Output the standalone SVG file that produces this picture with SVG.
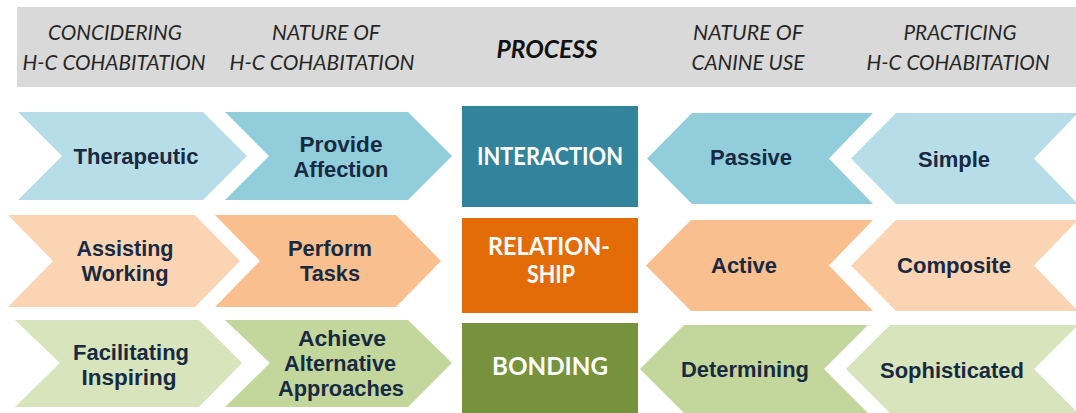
<svg xmlns="http://www.w3.org/2000/svg" width="1076" height="413" viewBox="0 0 1076 413">
  <style>
    .hdr { font-family: Lato, "Open Sans", "Liberation Sans", sans-serif; font-style: italic; font-size: 21px; fill: #262626; text-anchor: middle; }
    .hdr-b { font-family: Lato, "Open Sans", "Liberation Sans", sans-serif; font-style: italic; font-weight: bold; font-size: 24px; fill: #111; text-anchor: middle; }
    .lbl { font-family: "Liberation Sans", Arial, sans-serif; font-weight: bold; font-size: 22px; fill: #172a42; text-anchor: middle; }
    .core { font-family: Lato, "Open Sans", "Liberation Sans", sans-serif; font-weight: bold; font-size: 24px; fill: #ffffff; text-anchor: middle; }
    .blue-l { fill: #b7dde8; }
    .blue-d { fill: #92cddc; }
    .orange-l { fill: #fbd4b4; }
    .orange-d { fill: #fabf8f; }
    .green-l { fill: #d7e4bc; }
    .green-d { fill: #c3d69b; }
  </style>

  <!-- header band -->
  <g id="header">
    <rect x="17" y="7" width="1062" height="80" fill="#d9d9d9"/>
    <text class="hdr" x="115" y="40" textLength="134" lengthAdjust="spacingAndGlyphs">CONCIDERING</text>
    <text class="hdr" x="114" y="70" textLength="183" lengthAdjust="spacingAndGlyphs">H-C COHABITATION</text>
    <text class="hdr" x="326" y="40" textLength="108" lengthAdjust="spacingAndGlyphs">NATURE OF</text>
    <text class="hdr" x="322" y="70" textLength="185" lengthAdjust="spacingAndGlyphs">H-C COHABITATION</text>
    <text class="hdr-b" x="547" y="58" textLength="101" lengthAdjust="spacingAndGlyphs">PROCESS</text>
    <text class="hdr" x="748" y="40" textLength="110" lengthAdjust="spacingAndGlyphs">NATURE OF</text>
    <text class="hdr" x="748" y="70" textLength="113" lengthAdjust="spacingAndGlyphs">CANINE USE</text>
    <text class="hdr" x="960" y="40" textLength="113" lengthAdjust="spacingAndGlyphs">PRACTICING</text>
    <text class="hdr" x="958" y="70" textLength="183" lengthAdjust="spacingAndGlyphs">H-C COHABITATION</text>
  </g>

  <!-- row 1: interaction -->
  <g id="therapeutic">
    <polygon class="blue-l" points="18,112 203,112 247,156 203,200 18,200 62,156"/>
    <text class="lbl" x="136" y="164" textLength="125" lengthAdjust="spacingAndGlyphs">Therapeutic</text>
  </g>
  <g id="provide-affection">
    <polygon class="blue-d" points="225,112 408,112 452,156 408,200 225,200 269,156"/>
    <text class="lbl" x="341" y="152" textLength="83" lengthAdjust="spacingAndGlyphs">Provide</text>
    <text class="lbl" x="341" y="177" textLength="95" lengthAdjust="spacingAndGlyphs">Affection</text>
  </g>
  <g id="interaction">
    <rect x="462" y="106" width="176" height="101" fill="#31849b"/>
    <text class="core" x="550" y="165" textLength="146" lengthAdjust="spacingAndGlyphs">INTERACTION</text>
  </g>
  <g id="passive">
    <polygon class="blue-d" points="647,158.5 692,113 873,113 829,158.5 873,204 692,204"/>
    <text class="lbl" x="751" y="165" textLength="82" lengthAdjust="spacingAndGlyphs">Passive</text>
  </g>
  <g id="simple">
    <polygon class="blue-l" points="851,158.5 896,113 1078,113 1034,158.5 1078,204 896,204"/>
    <text class="lbl" x="954" y="167" textLength="72" lengthAdjust="spacingAndGlyphs">Simple</text>
  </g>

  <!-- row 2: relationship -->
  <g id="assisting-working">
    <polygon class="orange-l" points="8,215 195,215 240,261 195,307 8,307 53,261"/>
    <text class="lbl" x="125" y="256" textLength="97" lengthAdjust="spacingAndGlyphs">Assisting</text>
    <text class="lbl" x="125" y="281" textLength="87" lengthAdjust="spacingAndGlyphs">Working</text>
  </g>
  <g id="perform-tasks">
    <polygon class="orange-d" points="215,215 396,215 441,261 396,307 215,307 260,261"/>
    <text class="lbl" x="330" y="256" textLength="84" lengthAdjust="spacingAndGlyphs">Perform</text>
    <text class="lbl" x="330" y="281" textLength="60" lengthAdjust="spacingAndGlyphs">Tasks</text>
  </g>
  <g id="relationship">
    <rect x="462" y="218" width="176" height="95" fill="#e36c09"/>
    <text class="core" x="549" y="255" textLength="122" lengthAdjust="spacingAndGlyphs">RELATION-</text>
    <text class="core" x="551" y="283" textLength="48" lengthAdjust="spacingAndGlyphs">SHIP</text>
  </g>
  <g id="active">
    <polygon class="orange-d" points="646,265.5 691,220 873,220 829,265.5 873,311 691,311"/>
    <text class="lbl" x="744" y="273" textLength="66" lengthAdjust="spacingAndGlyphs">Active</text>
  </g>
  <g id="composite">
    <polygon class="orange-l" points="851,265.5 896,220 1078,220 1034,265.5 1078,311 896,311"/>
    <text class="lbl" x="954" y="273" textLength="114" lengthAdjust="spacingAndGlyphs">Composite</text>
  </g>

  <!-- row 3: bonding -->
  <g id="facilitating-inspiring">
    <polygon class="green-l" points="15,320 199,320 242,363 199,407 15,407 60,363"/>
    <text class="lbl" x="131" y="360" textLength="116" lengthAdjust="spacingAndGlyphs">Facilitating</text>
    <text class="lbl" x="129" y="385" textLength="95" lengthAdjust="spacingAndGlyphs">Inspiring</text>
  </g>
  <g id="alternative-approaches">
    <polygon class="green-d" points="225,320 408,320 452,363 408,407 225,407 270,363"/>
    <text class="lbl" x="342" y="346" textLength="88" lengthAdjust="spacingAndGlyphs">Achieve</text>
    <text class="lbl" x="340" y="371" textLength="112" lengthAdjust="spacingAndGlyphs">Alternative</text>
    <text class="lbl" x="341" y="396" textLength="126" lengthAdjust="spacingAndGlyphs">Approaches</text>
  </g>
  <g id="bonding">
    <rect x="462" y="323" width="176" height="90" fill="#76923c"/>
    <text class="core" x="550" y="375" textLength="116" lengthAdjust="spacingAndGlyphs">BONDING</text>
  </g>
  <g id="determining">
    <polygon class="green-d" points="640,369 684,325 868,325 824,369 868,413 684,413"/>
    <text class="lbl" x="745" y="377" textLength="128" lengthAdjust="spacingAndGlyphs">Determining</text>
  </g>
  <g id="sophisticated">
    <polygon class="green-l" points="846,369 890,325 1078,325 1034,369 1078,413 890,413"/>
    <text class="lbl" x="952" y="378" textLength="144" lengthAdjust="spacingAndGlyphs">Sophisticated</text>
  </g>
</svg>
